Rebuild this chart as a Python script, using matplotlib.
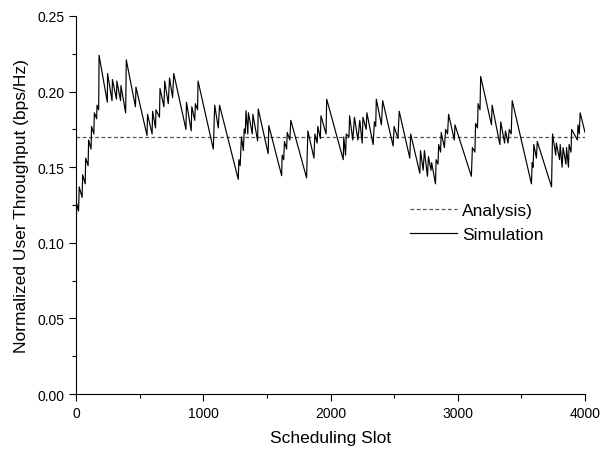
import matplotlib
matplotlib.use("Agg")
import matplotlib.pyplot as plt
from matplotlib.ticker import MultipleLocator, FormatStrFormatter

plt.rcParams['font.family'] = ['Liberation Sans', 'DejaVu Sans']

# analysis level
analysis_y = 0.17

# simulation trace (sawtooth vertices)
sim_x = [2, 5, 20, 25, 48, 52, 72, 76, 95, 99, 118, 122, 140, 144, 162, 165, 178, 181,
         246, 248, 283, 286, 318, 321, 350, 353, 390, 395, 467, 471,
         558, 562, 598, 602, 625, 628, 656, 660, 691, 697, 725, 735,
         759, 768, 864, 868, 905, 910, 933, 938, 955, 959, 1079, 1090,
         1118, 1128, 1275, 1280, 1290, 1300, 1315, 1322, 1330, 1336,
         1350, 1355, 1385, 1390, 1427, 1432, 1510, 1515, 1616, 1620,
         1632, 1638, 1655, 1660, 1680, 1688, 1812, 1822, 1870, 1877,
         1895, 1900, 1920, 1925, 1965, 1970, 2100, 2104, 2118, 2124,
         2145, 2150, 2175, 2188, 2215, 2230, 2249, 2255, 2280, 2286,
         2335, 2345, 2355, 2360, 2400, 2410, 2492, 2500, 2530, 2540,
         2623, 2630, 2702, 2707, 2728, 2738, 2762, 2770, 2790, 2795,
         2825, 2830, 2845, 2850, 2865, 2870, 2895, 2905, 2920, 2928,
         2973, 2978, 3107, 3115, 3135, 3140, 3155, 3160, 3175, 3180,
         3265, 3270, 3331, 3338, 3368, 3375, 3395, 3405, 3420, 3428,
         3579, 3585, 3592, 3598, 3618, 3625, 3737, 3745, 3770, 3775,
         3800, 3805, 3820, 3828, 3850, 3855, 3870, 3875, 3890, 3895,
         3940, 3945, 3955, 3962, 4000]
sim_y = [0.112, 0.126, 0.121, 0.137, 0.130, 0.145, 0.139, 0.156, 0.151, 0.168, 0.162, 0.177, 0.172, 0.186, 0.182, 0.191, 0.188, 0.224,
         0.193, 0.212, 0.194, 0.208, 0.195, 0.207, 0.194, 0.204, 0.186, 0.221, 0.190, 0.203,
         0.171, 0.185, 0.172, 0.187, 0.176, 0.188, 0.183, 0.202, 0.190, 0.207, 0.192, 0.209,
         0.196, 0.212, 0.175, 0.193, 0.174, 0.190, 0.181, 0.192, 0.188, 0.207, 0.162, 0.191,
         0.176, 0.191, 0.142, 0.155, 0.151, 0.170, 0.161, 0.1753, 0.1725, 0.1874,
         0.172, 0.186, 0.172, 0.185, 0.1675, 0.1885, 0.159, 0.1775, 0.1444, 0.158,
         0.155, 0.167, 0.162, 0.173, 0.168, 0.181, 0.143, 0.174, 0.156, 0.172,
         0.166, 0.177, 0.169, 0.184, 0.172, 0.195, 0.155, 0.170, 0.158, 0.172,
         0.170, 0.184, 0.168, 0.183, 0.168, 0.181, 0.166, 0.183, 0.175, 0.186,
         0.165, 0.180, 0.177, 0.195, 0.178, 0.194, 0.164, 0.177, 0.169, 0.187,
         0.156, 0.172, 0.146, 0.161, 0.148, 0.161, 0.144, 0.157, 0.148, 0.153,
         0.139, 0.155, 0.152, 0.165, 0.160, 0.173, 0.163, 0.175, 0.172, 0.185,
         0.168, 0.178, 0.144, 0.163, 0.160, 0.179, 0.176, 0.192, 0.188, 0.210,
         0.178, 0.191, 0.165, 0.180, 0.166, 0.174, 0.166, 0.175, 0.172, 0.194,
         0.139, 0.153, 0.150, 0.165, 0.156, 0.167, 0.137, 0.172, 0.158, 0.166,
         0.155, 0.165, 0.150, 0.163, 0.152, 0.163, 0.150, 0.165, 0.160, 0.175,
         0.168, 0.178, 0.172, 0.186, 0.173]

fig = plt.figure(figsize=(6.0, 4.52), dpi=100)
ax = fig.add_axes([0.1267, 0.126, 0.8483, 0.8364])

ax.plot([0, 4000], [analysis_y, analysis_y], color="#555555", lw=0.9,
        ls=(0, (3, 2)), label="Analysis)")
ax.plot(sim_x, sim_y, color="black", lw=0.85, label="Simulation")

ax.set_xlim(0, 4000)
ax.set_ylim(0, 0.25)
ax.xaxis.set_major_locator(MultipleLocator(1000))
ax.xaxis.set_minor_locator(MultipleLocator(500))
ax.yaxis.set_major_locator(MultipleLocator(0.05))
ax.yaxis.set_minor_locator(MultipleLocator(0.025))
ax.yaxis.set_major_formatter(FormatStrFormatter("%.2f"))
ax.tick_params(which="major", direction="out", length=5, width=0.8, labelsize=10)
ax.tick_params(which="minor", direction="out", length=3, width=0.8)
ax.spines["top"].set_visible(False)
ax.spines["right"].set_visible(False)

ax.set_xlabel("Scheduling Slot", fontsize=12.5, labelpad=7)
ax.set_ylabel("Normalized User Throughput (bps/Hz)", fontsize=12.5, labelpad=6)

ax.legend(loc="upper left", bbox_to_anchor=(0.656, 0.505), frameon=False,
          fontsize=12.5, handlelength=2.7, handletextpad=0.3,
          labelspacing=0.5, borderpad=0, borderaxespad=0)

fig.savefig("out.png", dpi=100)
